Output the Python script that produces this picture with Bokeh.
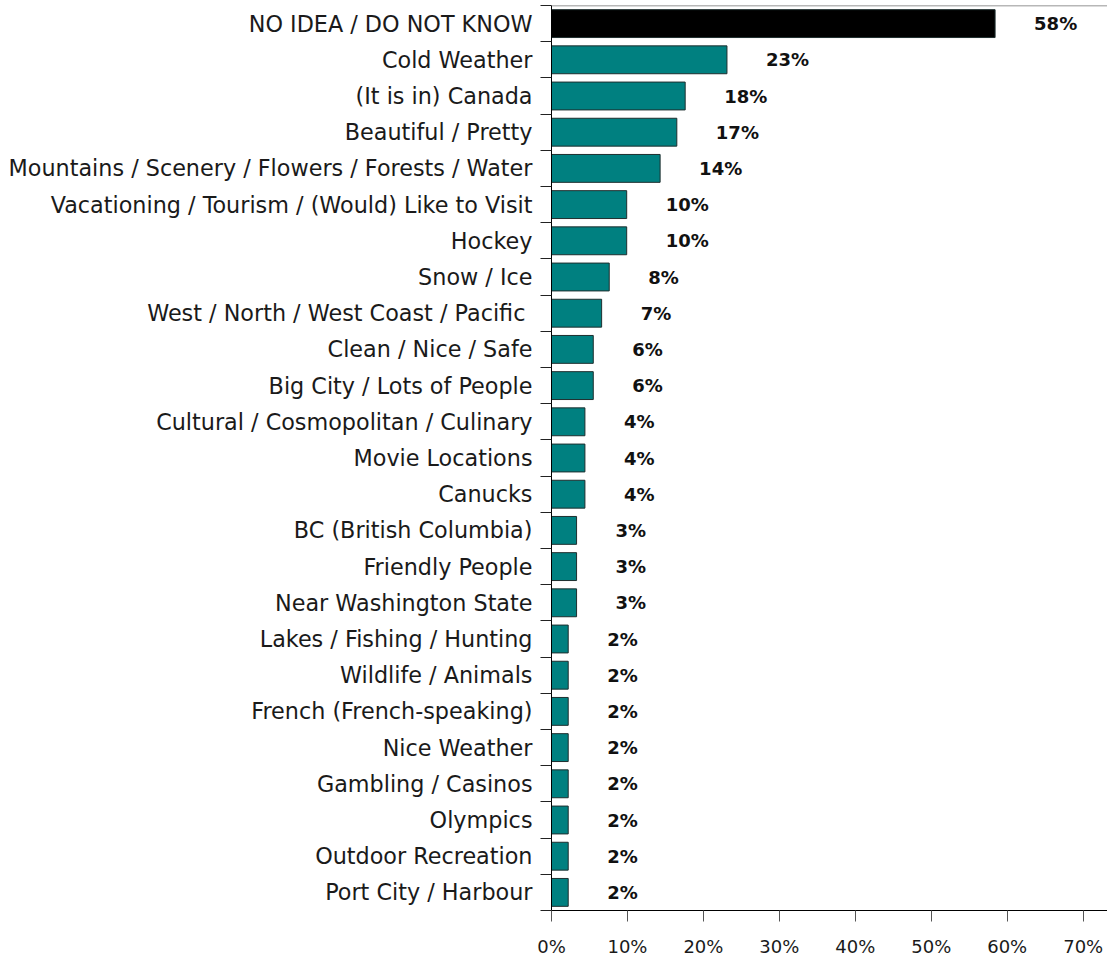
from bokeh.plotting import figure
from bokeh.models import Range1d, FixedTicker, ColumnDataSource, Span
from bokeh.core.properties import value
from bokeh.embed import file_html
from bokeh.resources import INLINE

categories = [
    "NO IDEA / DO NOT KNOW",
    "Cold Weather",
    "(It is in) Canada",
    "Beautiful / Pretty",
    "Mountains / Scenery / Flowers / Forests / Water",
    "Vacationing / Tourism / (Would) Like to Visit",
    "Hockey",
    "Snow / Ice",
    "West / North / West Coast / Pacific ",
    "Clean / Nice / Safe",
    "Big City / Lots of People",
    "Cultural / Cosmopolitan / Culinary",
    "Movie Locations",
    "Canucks",
    "BC (British Columbia)",
    "Friendly People",
    "Near Washington State",
    "Lakes / Fishing / Hunting",
    "Wildlife / Animals",
    "French (French-speaking)",
    "Nice Weather",
    "Gambling / Casinos",
    "Olympics",
    "Outdoor Recreation",
    "Port City / Harbour",
]
values = [58.4, 23.1, 17.6, 16.5, 14.3, 9.9, 9.9, 7.6, 6.6, 5.5, 5.5, 4.4, 4.4, 4.4,
          3.3, 3.3, 3.3, 2.2, 2.2, 2.2, 2.2, 2.2, 2.2, 2.2, 2.2]
value_labels = ["58%", "23%", "18%", "17%", "14%", "10%", "10%", "8%", "7%", "6%", "6%",
                "4%", "4%", "4%", "3%", "3%", "3%", "2%", "2%", "2%", "2%", "2%", "2%", "2%", "2%"]
bar_colors = ["#000000"] + ["#008080"] * 24
x_ticks = [0, 10, 20, 30, 40, 50, 60, 70]
x_tick_labels = ["0%", "10%", "20%", "30%", "40%", "50%", "60%", "70%"]

n = len(categories)
ypos = [n - 1 - i for i in range(n)]
src = ColumnDataSource(dict(y=ypos, v=values, lab=value_labels, color=bar_colors))

p = figure(width=1107, height=959, x_range=Range1d(0, 73.2), y_range=Range1d(-0.5, n - 0.5),
           output_backend="svg", toolbar_location=None,
           min_border_left=551, min_border_right=0, min_border_top=5, min_border_bottom=46)
p.outline_line_color = None
p.xgrid.visible = False
p.ygrid.visible = False

p.hbar(y="y", left=0, right="v", height=0.77, fill_color="color",
       line_color="#1e2e2e", line_width=1, source=src)
p.text(x="v", y="y", text="lab", x_offset=39, text_align="left", text_baseline="middle",
       text_font=value("DejaVu Sans"), text_font_style="bold", text_font_size="18px",
       text_color="#111111", source=src)

p.add_layout(Span(location=n - 0.5, dimension="width", line_color="#707070", line_width=1.5))

ya = p.yaxis[0]
ya.ticker = FixedTicker(ticks=ypos, minor_ticks=[k - 0.5 for k in range(n + 1)])
ya.major_label_overrides = {y: c for y, c in zip(ypos, categories)}
ya.major_tick_out = 0
ya.major_tick_in = 0
ya.minor_tick_out = 11
ya.minor_tick_in = 0
ya.minor_tick_line_color = "#222222"
ya.axis_line_color = "#000000"
ya.major_label_text_font = "DejaVu Sans"
ya.major_label_text_font_size = "22.3px"
ya.major_label_text_color = "#1a1a1a"
ya.major_label_standoff = 8

xa = p.xaxis[0]
xa.ticker = FixedTicker(ticks=x_ticks)
xa.major_label_overrides = {t: l for t, l in zip(x_ticks, x_tick_labels)}
xa.major_tick_out = 11
xa.major_tick_in = 0
xa.minor_tick_out = 0
xa.major_tick_line_color = "#555555"
xa.axis_line_color = "#000000"
xa.major_label_text_font = "DejaVu Sans"
xa.major_label_text_font_size = "18px"
xa.major_label_text_color = "#1a1a1a"
xa.major_label_standoff = 14

open("out.html", "w").write(file_html(p, INLINE))
